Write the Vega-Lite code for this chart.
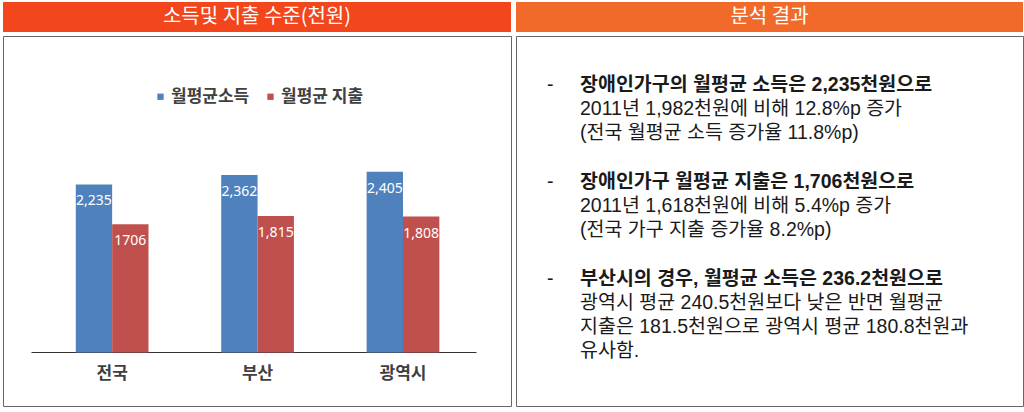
{
  "$schema": "https://vega.github.io/schema/vega-lite/v6.json",
  "background": "white",
  "padding": {"left": 2, "top": 2, "right": 0, "bottom": 0},
  "spacing": 3,
  "hconcat": [
    {
      "spacing": 3,
      "vconcat": [
        {
          "width": 508,
          "height": 30,
          "view": {"fill": "#F3461C", "stroke": null},
          "data": {"values": [{"title": "소득및 지출 수준(천원)"}]},
          "mark": {"type": "text", "color": "white", "font": "Noto Sans CJK KR", "fontSize": 20, "baseline": "middle", "align": "center"},
          "encoding": {"text": {"field": "title"}}
        },
        {
          "width": 508,
          "height": 370,
          "view": {"fill": "white", "stroke": "#666666", "strokeWidth": 1},
          "data": {
            "values": [
              {"region": "전국", "series": "월평균소득", "value": 2235, "label": "2,235"},
              {"region": "전국", "series": "월평균 지출", "value": 1706, "label": "1706"},
              {"region": "부산", "series": "월평균소득", "value": 2362, "label": "2,362"},
              {"region": "부산", "series": "월평균 지출", "value": 1815, "label": "1,815"},
              {"region": "광역시", "series": "월평균소득", "value": 2405, "label": "2,405"},
              {"region": "광역시", "series": "월평균 지출", "value": 1808, "label": "1,808"}
            ]
          },
          "encoding": {
            "x": {
              "field": "region",
              "type": "nominal",
              "sort": ["전국", "부산", "광역시"],
              "scale": {"range": [28, 473], "paddingInner": 0.5, "paddingOuter": 0.28, "align": 0.55},
              "axis": {
                "orient": "bottom",
                "offset": -54,
                "title": null,
                "ticks": false,
                "grid": false,
                "domainColor": "#333333",
                "domainWidth": 1.2,
                "labelAngle": 0,
                "labelFont": "Noto Sans CJK KR",
                "labelFontSize": 17,
                "labelFontWeight": "bold",
                "labelColor": "#404040",
                "labelPadding": 13
              }
            },
            "xOffset": {"field": "series", "type": "nominal", "sort": ["월평균소득", "월평균 지출"]},
            "y": {
              "field": "value",
              "type": "quantitative",
              "scale": {"domain": [-711, 4209], "nice": false, "zero": false},
              "axis": null
            }
          },
          "layer": [
            {
              "mark": {"type": "bar"},
              "encoding": {
                "y2": {"datum": 0},
                "color": {
                  "field": "series",
                  "type": "nominal",
                  "scale": {"domain": ["월평균소득", "월평균 지출"], "range": ["#4F81BD", "#C0504D"]},
                  "legend": {
                    "orient": "none",
                    "direction": "horizontal",
                    "legendX": 149,
                    "legendY": 86,
                    "title": null,
                    "symbolType": "square",
                    "symbolSize": 40,
                    "symbolStrokeWidth": 0,
                    "labelFont": "Noto Sans CJK KR",
                    "labelFontSize": 17,
                    "labelFontWeight": "bold",
                    "labelColor": "#404040",
                    "labelOffset": 2,
                    "columnPadding": 12
                  }
                }
              }
            },
            {
              "mark": {"type": "text", "color": "white", "font": "Noto Sans", "fontSize": 14, "baseline": "middle", "align": "center", "dy": 17},
              "encoding": {"text": {"field": "label"}}
            }
          ]
        }
      ]
    },
    {
      "spacing": 3,
      "vconcat": [
        {
          "width": 507,
          "height": 30,
          "view": {"fill": "#F26A2A", "stroke": null},
          "data": {"values": [{"title": "분석 결과"}]},
          "mark": {"type": "text", "color": "white", "font": "Noto Sans CJK KR", "fontSize": 20, "baseline": "middle", "align": "center"},
          "encoding": {"text": {"field": "title"}}
        },
        {
          "width": 507,
          "height": 370,
          "view": {"fill": "white", "stroke": "#666666", "strokeWidth": 1},
          "data": {
            "values": [
              {"line": 0, "part": "bullet", "text": "-", "strong": false},
              {"line": 0, "part": "body", "text": "장애인가구의 월평균 소득은 2,235천원으로", "strong": true},
              {"line": 1, "part": "body", "text": "2011년 1,982천원에 비해 12.8%p 증가", "strong": false},
              {"line": 2, "part": "body", "text": "(전국 월평균 소득 증가율 11.8%p)", "strong": false},
              {"line": 4, "part": "bullet", "text": "-", "strong": false},
              {"line": 4, "part": "body", "text": "장애인가구 월평균 지출은 1,706천원으로", "strong": true},
              {"line": 5, "part": "body", "text": "2011년 1,618천원에 비해 5.4%p 증가", "strong": false},
              {"line": 6, "part": "body", "text": "(전국 가구 지출 증가율 8.2%p)", "strong": false},
              {"line": 8, "part": "bullet", "text": "-", "strong": false},
              {"line": 8, "part": "body", "text": "부산시의 경우, 월평균 소득은 236.2천원으로", "strong": true},
              {"line": 9, "part": "body", "text": "광역시 평균 240.5천원보다 낮은 반면 월평균", "strong": false},
              {"line": 10, "part": "body", "text": "지출은 181.5천원으로 광역시 평균 180.8천원과", "strong": false},
              {"line": 11, "part": "body", "text": "유사함.", "strong": false}
            ]
          },
          "encoding": {
            "x": {
              "field": "part",
              "type": "nominal",
              "scale": {"type": "point", "domain": ["bullet", "body"], "range": [31, 64], "padding": 0},
              "axis": null
            },
            "y": {
              "field": "line",
              "type": "quantitative",
              "scale": {"domain": [-2.025, 13.264], "reverse": true, "nice": false, "zero": false},
              "axis": null
            },
            "text": {"field": "text"}
          },
          "layer": [
            {
              "transform": [{"filter": "datum.strong"}],
              "mark": {"type": "text", "align": "left", "baseline": "middle", "font": "Liberation Sans, Noto Sans CJK KR", "fontSize": 19.5, "fontWeight": "bold", "color": "#1a1a1a"}
            },
            {
              "transform": [{"filter": "!datum.strong"}],
              "mark": {"type": "text", "align": "left", "baseline": "middle", "font": "Liberation Sans, Noto Sans CJK KR", "fontSize": 19.5, "fontWeight": "normal", "color": "#1a1a1a"}
            }
          ]
        }
      ]
    }
  ]
}
